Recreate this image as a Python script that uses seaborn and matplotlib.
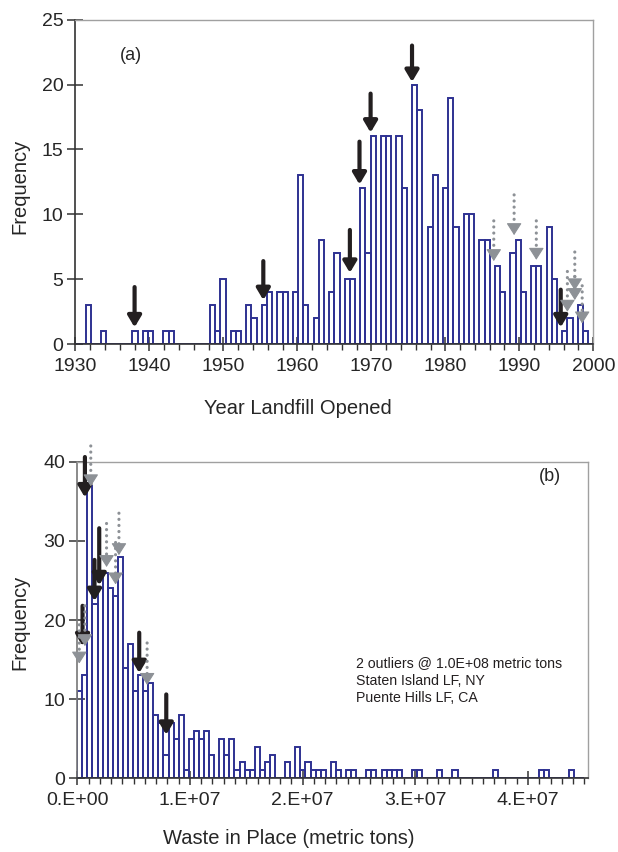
import numpy as np
import pandas as pd
import matplotlib
matplotlib.use("Agg")
import matplotlib.pyplot as plt
import seaborn as sns
from matplotlib.ticker import MultipleLocator, FuncFormatter

# ---- data: panel (a) landfill opening year, 100 bins over 1930-2000 ----
year_counts = [0, 0, 3, 0, 0, 1, 0, 0, 0, 0,
               0, 1, 0, 1, 1, 0, 0, 1, 1, 0,
               0, 0, 0, 0, 0, 0, 3, 1, 5, 0,
               1, 1, 0, 3, 2, 0, 3, 4, 0, 4,
               4, 0, 4, 13, 3, 0, 2, 8, 0, 4,
               7, 0, 5, 5, 0, 12, 7, 16, 0, 16,
               16, 0, 16, 12, 0, 20, 18, 0, 9, 13,
               0, 12, 19, 9, 0, 10, 10, 0, 8, 8,
               0, 6, 4, 0, 7, 8, 4, 0, 6, 6,
               0, 9, 5, 0, 1, 2, 0, 3, 1, 0]

# ---- data: panel (b) waste in place, 100 bins of 4.5E+05 metric tons ----
waste_counts = [11, 13, 37, 22, 24, 26, 24, 23, 28, 14,
                17, 11, 13, 11, 12, 8, 7, 3, 7, 5,
                8, 1, 5, 6, 5, 6, 3, 0, 5, 3,
                5, 1, 2, 1, 1, 4, 1, 2, 3, 0,
                0, 2, 0, 4, 1, 2, 1, 1, 1, 0,
                2, 1, 0, 1, 1, 0, 0, 1, 1, 0,
                1, 1, 1, 1, 0, 0, 1, 1, 0, 0,
                0, 1, 0, 0, 1, 0, 0, 0, 0, 0,
                0, 0, 1, 0, 0, 0, 0, 0, 0, 0,
                0, 1, 1, 0, 0, 0, 0, 1, 0, 0]

# arrows: (x, tail value, tip value)
arrows_a_black = [(1938.0, 4.4, 1.3), (1955.4, 6.4, 3.4), (1967.1, 8.8, 5.5),
                  (1968.4, 15.6, 12.3), (1969.9, 19.3, 16.3), (1975.5, 23.0, 20.2),
                  (1995.6, 4.2, 1.3)]
arrows_a_gray = [(1986.55, 9.5, 6.4), (1989.3, 11.5, 8.4), (1992.3, 9.5, 6.5),
                 (1996.5, 5.6, 2.5), (1997.5, 7.1, 4.15), (1997.5, 5.2, 3.4),
                 (1998.5, 4.5, 1.6)]
arrows_b_black = [(6.8e5, 40.6, 35.5), (1.95e6, 31.6, 24.4), (1.53e6, 27.6, 22.4),
                  (4.7e5, 21.8, 16.7), (5.5e6, 18.4, 13.3), (7.9e6, 10.6, 5.5)]
arrows_b_gray = [(1.2e6, 42.0, 36.9), (2.6e6, 32.2, 26.7), (3.4e6, 29.8, 24.5),
                 (3.7e6, 33.5, 28.2), (6.8e5, 21.8, 16.7), (1.8e5, 19.4, 14.5),
                 (6.2e6, 17.1, 11.8)]

BAR = "#2e3192"
BLACK = "#231f20"
GRAY = "#8d9196"

sns.set_style("white")
plt.rcParams["font.family"] = ["Liberation Sans", "DejaVu Sans"]

fig = plt.figure(figsize=(6.18, 8.52), dpi=100)
ax_a = fig.add_axes([0.122, 0.596, 0.838, 0.381])
ax_b = fig.add_axes([0.125, 0.0865, 0.826, 0.3715])


def draw_hist(ax, counts, lo, hi):
    edges = np.linspace(lo, hi, len(counts) + 1)
    df = pd.DataFrame({"x": (edges[:-1] + edges[1:]) / 2, "w": counts})
    sns.histplot(data=df, x="x", weights="w", bins=list(edges), fill=False,
                 element="bars", color=BAR, linewidth=1.4, ax=ax)


def draw_arrows(ax, black, gray):
    for x, y0, y1 in black:
        ax.annotate("", xy=(x, y1), xytext=(x, y0), annotation_clip=False,
                    arrowprops=dict(arrowstyle="-|>,head_length=0.42,head_width=0.25",
                                    color=BLACK, lw=3.0, mutation_scale=16,
                                    shrinkA=0, shrinkB=0))
    for x, y0, y1 in gray:
        # dotted shaft
        ax.annotate("", xy=(x, y1), xytext=(x, y0), annotation_clip=False,
                    arrowprops=dict(arrowstyle="-", color=GRAY, lw=2.3,
                                    linestyle=(0, (0.01, 1.9)), capstyle="round",
                                    shrinkA=0, shrinkB=7))
        # solid head
        ax.annotate("", xy=(x, y1), xytext=(0, 7.5), textcoords="offset points",
                    annotation_clip=False,
                    arrowprops=dict(arrowstyle="-|>,head_length=0.44,head_width=0.28",
                                    color=GRAY, lw=0.8, mutation_scale=17,
                                    shrinkA=0, shrinkB=0))


def style_axes(ax):
    for side in ["top", "right"]:
        ax.spines[side].set_visible(True)
        ax.spines[side].set_color("#a0a0a0")
        ax.spines[side].set_linewidth(1.0)
    for side in ["left", "bottom"]:
        ax.spines[side].set_color("#333333")
        ax.spines[side].set_linewidth(1.2)
    ax.tick_params(axis="y", which="major", direction="inout", length=11,
                   width=1.1, labelsize=14, color="#333333", pad=3, left=True)
    ax.tick_params(axis="x", which="major", direction="inout", length=10,
                   width=1.1, labelsize=14, color="#333333", pad=5, bottom=True)
    ax.tick_params(axis="x", which="minor", direction="out", length=4,
                   width=1.0, color="#333333", bottom=True)
    ax.set_xlabel("")
    ax.set_ylabel("")


# panel (a)
draw_hist(ax_a, year_counts, 1930, 2000)
ax_a.set_xlim(1930, 2000)
ax_a.set_ylim(0, 25)
ax_a.xaxis.set_major_locator(MultipleLocator(10))
ax_a.xaxis.set_minor_locator(MultipleLocator(2))
ax_a.yaxis.set_major_locator(MultipleLocator(5))
style_axes(ax_a)
draw_arrows(ax_a, arrows_a_black, arrows_a_gray)
ax_a.text(1936.0, 22.2, "(a)", fontsize=13, va="center")

# panel (b)
draw_hist(ax_b, waste_counts, 0, 4.5e7)
ax_b.set_xlim(0, 4.53e7)
ax_b.set_ylim(0, 40)
ax_b.xaxis.set_major_locator(MultipleLocator(1e7))
ax_b.xaxis.set_minor_locator(MultipleLocator(1e6))
ax_b.yaxis.set_major_locator(MultipleLocator(10))
ax_b.xaxis.set_major_formatter(FuncFormatter(
    lambda v, p: "0.E+00" if v == 0 else f"{int(round(v / 1e7))}.E+07"))
style_axes(ax_b)
ax_b.spines["left"].set_color("#777777")
draw_arrows(ax_b, arrows_b_black, arrows_b_gray)
ax_b.text(4.1e7, 38.2, "(b)", fontsize=13, va="center")
ax_b.text(2.47e7, 15.4, "2 outliers @ 1.0E+08 metric tons\nStaten Island LF, NY\nPuente Hills LF, CA",
          fontsize=10.2, linespacing=1.3, color="#231f20", va="top")

fig.text(298 / 618, 1 - 408 / 852, "Year Landfill Opened", ha="center", va="center", fontsize=14.5)
fig.text(289 / 618, 1 - 838 / 852, "Waste in Place (metric tons)", ha="center", va="center", fontsize=14.5)
fig.text(20 / 618, 1 - 186 / 852, "Frequency", rotation=90, ha="center", va="center", fontsize=14.5)
fig.text(20 / 618, 1 - 622 / 852, "Frequency", rotation=90, ha="center", va="center", fontsize=14.5)

fig.savefig("out.png", dpi=100)
